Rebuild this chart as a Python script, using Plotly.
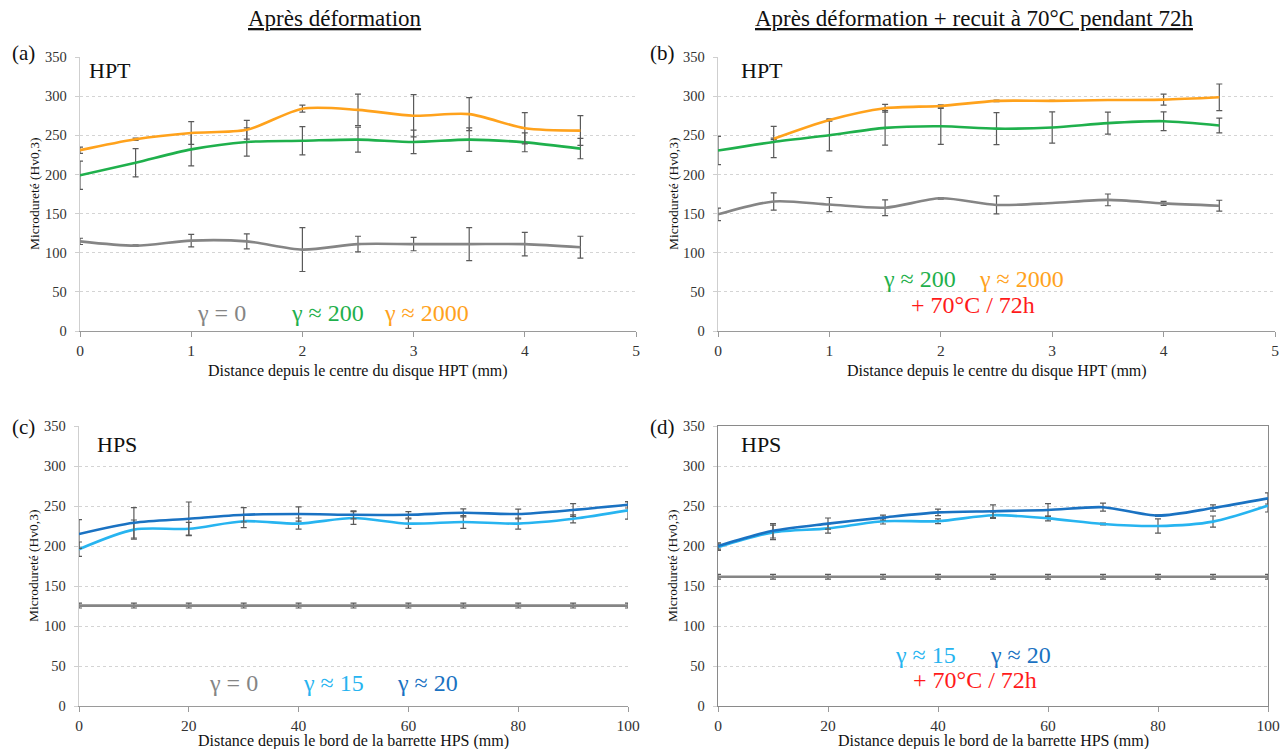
import plotly.graph_objects as go

# ---------------- data ----------------
x_hpt = [0, 0.5, 1, 1.5, 2, 2.5, 3, 3.5, 4, 4.5]
x_hpt_2000b = [0.5, 1, 1.5, 2, 2.5, 3, 3.5, 4, 4.5]
x_hps = [0, 10, 20, 30, 40, 50, 60, 70, 80, 90, 100]

a_g0 = [114.5, 109, 115.5, 114.5, 104, 111, 111, 111, 111, 107]
a_g0_err = [4, 1, 8, 9.5, 28, 10, 8.5, 21, 15, 14]
a_g200 = [199, 215, 232, 241.5, 243, 244.5, 241.5, 244.5, 241, 233]
a_g200_err = [18, 18, 21, 18, 18, 16, 15, 15, 12, 13]
a_g2000 = [231, 245, 253, 257, 284, 282.5, 275, 277, 259, 256]
a_g2000_err = [4, 1.5, 14.5, 12, 4.5, 20, 27, 21, 20, 19]

b_g0 = [149, 165.5, 161.5, 157.5, 169.5, 161, 163.5, 167.5, 163, 160]
b_g0_err = [8, 11, 9, 10, 1, 11.5, 0.5, 7.5, 2.5, 7]
b_g200 = [230.5, 241.5, 250, 259.5, 261.5, 258.5, 260, 265.5, 268, 262.5]
b_g200_err = [18, 20, 20, 22, 23, 20.5, 20, 14, 12, 9.5]
b_g2000 = [245.5, 269.5, 284.5, 287.5, 294, 294, 295, 295.5, 298.5]
b_g2000_err = [1, 1.5, 5, 1.5, 1, 0.5, 0.5, 7, 17]

c_g0 = [125.5, 125.5, 125.5, 125.5, 125.5, 125.5, 125.5, 125.5, 125.5, 125.5, 125.5]
c_g0_err = [3, 3, 3, 3, 3, 3, 3, 3, 3, 3, 3]
c_g15 = [196, 220.5, 221.5, 231, 228, 235, 228, 230, 228, 234, 244.5]
c_g15_err = [9, 12, 8, 8, 7, 8, 6, 8, 7, 5, 11]
c_g20 = [215, 229, 234, 239, 240, 239, 239, 241.5, 240, 245, 251.5]
c_g20_err = [18, 19, 21, 9, 9, 5, 4, 5, 6, 8, 4]

d_g0 = [161.5, 161.5, 161.5, 161.5, 161.5, 161.5, 161.5, 161.5, 161.5, 161.5, 161.5]
d_g0_err = [3, 3, 3, 3, 3, 3, 3, 3, 3, 3, 3]
d_g15 = [198.5, 217, 222, 231, 231, 238.5, 234.5, 227.5, 225, 230.5, 250.5]
d_g15_err = [4, 9, 6, 3.5, 3, 4, 3, 1, 9, 7, 8]
d_g20 = [200, 219, 228, 235.5, 242, 243.5, 245, 248.5, 238, 247.5, 259.5]
d_g20_err = [4, 9, 7, 3, 4, 8, 8, 5, 1, 4, 7]

y_ticks = [0, 50, 100, 150, 200, 250, 300, 350]

# ---------------- style ----------------
W, H = 1282, 749
FONT = '"Liberation Serif", "Times New Roman", "DejaVu Serif", serif'
C_GRAY = "#858585"
C_GREEN = "#1fb04c"
C_ORANGE = "#ffa21c"
C_LBLUE = "#27b4f0"
C_DBLUE = "#1a72c2"
C_RED = "#ff1a1a"
C_ERR = "#5a5a5a"


def px(x):
    return x / W


def py(y):
    return 1 - y / H


fig = go.Figure()


def add_series(xs, ys, errs, color, xa, ya):
    fig.add_trace(go.Scatter(
        x=xs, y=ys, mode="lines",
        line=dict(color=color, width=2.6, shape="spline", smoothing=0.8),
        error_y=dict(type="data", array=errs, visible=True,
                     color=C_ERR, thickness=1.2, width=3),
        xaxis=xa, yaxis=ya, showlegend=False, hoverinfo="skip"))


add_series(x_hpt, a_g0, a_g0_err, C_GRAY, "x", "y")
add_series(x_hpt, a_g200, a_g200_err, C_GREEN, "x", "y")
add_series(x_hpt, a_g2000, a_g2000_err, C_ORANGE, "x", "y")

add_series(x_hpt, b_g0, b_g0_err, C_GRAY, "x2", "y2")
add_series(x_hpt, b_g200, b_g200_err, C_GREEN, "x2", "y2")
add_series(x_hpt_2000b, b_g2000, b_g2000_err, C_ORANGE, "x2", "y2")

add_series(x_hps, c_g0, c_g0_err, C_GRAY, "x3", "y3")
add_series(x_hps, c_g15, c_g15_err, C_LBLUE, "x3", "y3")
add_series(x_hps, c_g20, c_g20_err, C_DBLUE, "x3", "y3")

add_series(x_hps, d_g0, d_g0_err, C_GRAY, "x4", "y4")
add_series(x_hps, d_g15, d_g15_err, C_LBLUE, "x4", "y4")
add_series(x_hps, d_g20, d_g20_err, C_DBLUE, "x4", "y4")

xtickfont = dict(family=FONT, size=15.5, color="#333333")
ytickfont = dict(family=FONT, size=14.5, color="#333333")


def xaxis(dom, rng, dt, anchor, box=False):
    return dict(domain=dom, range=rng, dtick=dt, tick0=0, anchor=anchor,
                automargin=False,
                showgrid=False, zeroline=False, showline=True,
                linecolor="#8a8a8a" if box else "#9a9a9a", linewidth=1.3,
                ticks="outside", ticklen=5, tickcolor="#9a9a9a",
                tickfont=xtickfont, mirror=box)


def yaxis(dom, anchor, box=False):
    return dict(domain=dom, range=[0, 350], tickvals=y_ticks, anchor=anchor,
                automargin=False, ticklabelstandoff=5,
                showgrid=True, gridcolor="#d4d4d4", griddash="dot", gridwidth=1,
                zeroline=False, showline=True,
                linecolor="#8a8a8a" if box else "#cfcfcf", linewidth=1.3,
                ticks="outside", ticklen=4, tickcolor="#cfcfcf",
                tickfont=ytickfont, mirror=box)


yA = [py(331), py(57)]
yC = [py(706), py(426)]

fig.update_layout(
    template="none",
    width=W, height=H,
    margin=dict(l=0, r=0, t=0, b=0, autoexpand=False),
    paper_bgcolor="white", plot_bgcolor="white",
    font=dict(family=FONT, color="#222222"),
    xaxis=xaxis([px(80), px(636)], [0, 5], 1, "y"),
    yaxis=yaxis(yA, "x"),
    xaxis2=xaxis([px(718), px(1275)], [0, 5], 1, "y2"),
    yaxis2=yaxis(yA, "x2"),
    xaxis3=xaxis([px(79), px(628)], [0, 100], 20, "y3"),
    yaxis3=yaxis(yC, "x3"),
    xaxis4=xaxis([px(718), px(1268)], [0, 100], 20, "y4", box=True),
    yaxis4=yaxis(yC, "x4", box=True),
)

ann = []


def text(x, y, s, size, color="#111111", xanchor="center", yanchor="middle", angle=0):
    ann.append(dict(x=px(x), y=py(y), xref="paper", yref="paper", text=s,
                    showarrow=False, xanchor=xanchor, yanchor=yanchor,
                    textangle=angle,
                    font=dict(family=FONT, size=size, color=color)))


# column titles
text(335, 19, "<u>Après déformation</u>", 23)
text(974, 19, "<u>Après déformation + recuit à 70°C pendant 72h</u>", 23)

# panel letters
text(23, 53, "(a)", 21)
text(663, 53, "(b)", 21)
text(23, 427, "(c)", 21)
text(663, 427, "(d)", 21)

# HPT / HPS labels
text(87, 70, "HPT", 22, xanchor="left")
text(739, 70, "HPT", 22, xanchor="left")
text(95, 444, "HPS", 22, xanchor="left")
text(739, 444, "HPS", 22, xanchor="left")

# y-axis titles
for xx, yy in [(34, 194), (673, 194), (33, 566), (672, 566)]:
    text(xx, yy, "Microdureté (Hv0,3)", 13.5, angle=-90)

# x-axis titles
text(358, 371, "Distance depuis le centre du disque HPT (mm)", 16)
text(997, 371, "Distance depuis le centre du disque HPT (mm)", 16)
text(354, 741, "Distance depuis le bord de la barrette HPS (mm)", 16)
text(993, 741, "Distance depuis le bord de la barrette HPS (mm)", 16)

# gamma labels
GS = 24
text(221, 313, "γ = 0", GS, C_GRAY)
text(327, 313, "γ ≈ 200", GS, C_GREEN)
text(426, 313, "γ ≈ 2000", GS, C_ORANGE)

text(919, 279, "γ ≈ 200", GS, C_GREEN)
text(1021, 279, "γ ≈ 2000", GS, C_ORANGE)
text(973, 305, "+ 70°C / 72h", GS, C_RED)

text(233, 683, "γ = 0", GS, C_GRAY)
text(333, 683, "γ ≈ 15", GS, C_LBLUE)
text(427, 683, "γ ≈ 20", GS, C_DBLUE)

text(926, 655, "γ ≈ 15", GS, C_LBLUE)
text(1020, 655, "γ ≈ 20", GS, C_DBLUE)
text(975, 680, "+ 70°C / 72h", GS, C_RED)

fig.update_layout(annotations=ann)

fig.write_html(
    "out.html",
    config={"displayModeBar": False, "staticPlot": True},
    post_script="document.body.style.margin='0';document.body.style.overflow='hidden';",
)
